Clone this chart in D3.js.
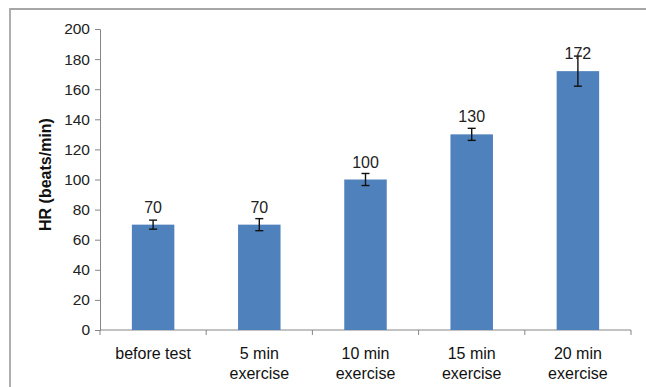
<!DOCTYPE html>
<html><head><meta charset="utf-8">
<script src="https://cdn.jsdelivr.net/npm/d3@7"></script>
<style>
html,body{margin:0;padding:0;background:#fff;}
text{font-family:"Liberation Sans",Arial,sans-serif;}
</style></head>
<body>
<svg id="c" width="646" height="387"></svg>
<script>
const categories = [["before test"], ["5 min", "exercise"], ["10 min", "exercise"], ["15 min", "exercise"], ["20 min", "exercise"]];
const values = [70, 70, 100, 130, 172];
const errors = [3, 4, 4, 4, 10];
const yTicks = [0, 20, 40, 60, 80, 100, 120, 140, 160, 180, 200];
const yLabel = "HR (beats/min)";

const svg = d3.select("#c");
// outer frame (top and left edges visible)
svg.append("path").attr("d", "M10,400 L10,9 L660,9")
  .attr("fill", "none").attr("stroke", "#a6a6a6").attr("stroke-width", 1.8);

const x0 = 100, x1 = 631, yTop = 29, yBot = 330;
const idx = categories.map((d, i) => i);
const x = d3.scaleBand().domain(idx).range([x0, x1]).paddingInner(0.6).paddingOuter(0.3);
const y = d3.scaleLinear().domain([0, 200]).range([yBot, yTop]);

// y axis
const ya = svg.append("g").attr("transform", `translate(${x0},0)`)
  .call(d3.axisLeft(y).tickValues(yTicks).tickSize(5).tickPadding(5));
ya.selectAll("path,line").attr("stroke", "#868686");
ya.selectAll("text").attr("font-size", 15.5).attr("fill", "#222")
  .attr("font-family", "'Liberation Sans',Arial,sans-serif");

// x axis
const xEdges = d3.scaleLinear().domain([0, categories.length]).range([x0, x1]);
const xa = svg.append("g").attr("transform", `translate(0,${yBot})`);
xa.append("line").attr("x1", x0).attr("x2", x1).attr("stroke", "#868686");
xa.selectAll("line.t").data(d3.range(categories.length + 1)).join("line")
  .attr("class", "t").attr("x1", d => xEdges(d)).attr("x2", d => xEdges(d))
  .attr("y1", 0).attr("y2", 5).attr("stroke", "#868686");

// bars
svg.selectAll("rect.bar").data(values).join("rect").attr("class", "bar")
  .attr("x", (d, i) => x(i)).attr("width", x.bandwidth())
  .attr("y", d => y(d)).attr("height", d => yBot - y(d))
  .attr("fill", "#4F81BD");

// error bars
const eg = svg.append("g").attr("stroke", "#111").attr("stroke-width", 1.4);
values.forEach((v, i) => {
  const cx = x(i) + x.bandwidth() / 2;
  eg.append("line").attr("x1", cx).attr("x2", cx).attr("y1", y(v + errors[i])).attr("y2", y(v - errors[i]));
  eg.append("line").attr("x1", cx - 4).attr("x2", cx + 4).attr("y1", y(v + errors[i])).attr("y2", y(v + errors[i]));
  eg.append("line").attr("x1", cx - 4).attr("x2", cx + 4).attr("y1", y(v - errors[i])).attr("y2", y(v - errors[i]));
});

// value labels
svg.selectAll("text.val").data(values).join("text").attr("class", "val")
  .attr("x", (d, i) => x(i) + x.bandwidth() / 2).attr("y", d => y(d) - 12)
  .attr("text-anchor", "middle").attr("font-size", 16).attr("fill", "#222")
  .text(d => d);

// category labels
categories.forEach((lines, i) => {
  const t = svg.append("text").attr("x", x(i) + x.bandwidth() / 2).attr("y", 359)
    .attr("text-anchor", "middle").attr("font-size", 16).attr("fill", "#111");
  lines.forEach((l, j) => t.append("tspan").attr("x", x(i) + x.bandwidth() / 2).attr("dy", j ? 20 : 0).text(l));
});

// y label
svg.append("text").attr("transform", `translate(51,${(yTop + yBot) / 2 - 5}) rotate(-90)`)
  .attr("text-anchor", "middle").attr("font-size", 16).attr("font-weight", "bold").attr("fill", "#111")
  .text(yLabel);
</script>
</body></html>
